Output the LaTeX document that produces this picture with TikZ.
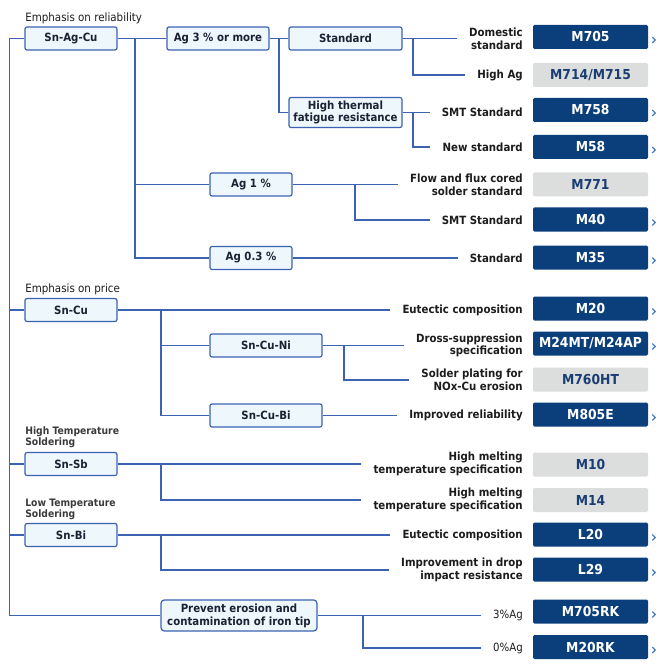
\documentclass[tikz,border=0pt]{standalone}
\usepackage{fontspec}
\setmainfont{DejaVu Sans}[FakeStretch=0.9]
\definecolor{linkblue}{HTML}{3B62B3}
\definecolor{boxfill}{HTML}{EEF7FC}
\definecolor{navy}{HTML}{0B3F7C}
\definecolor{grayfill}{HTML}{DCDDDD}
\definecolor{navytext}{HTML}{1B3E72}
\definecolor{deepnavy}{HTML}{1A2233}
\definecolor{labelblack}{HTML}{1C1C1C}
\definecolor{capgray}{HTML}{3A3A3A}
\definecolor{chevblue}{HTML}{4A7DC4}
\begin{document}
\begin{tikzpicture}[x=0.75pt,y=-0.75pt,
  link/.style={linkblue,line width=0.9pt},
  grp/.style={draw=linkblue,fill=boxfill,line width=0.9pt,rounded corners=1.5pt,minimum height=17.25pt,inner sep=0pt,
    align=center,text=deepnavy,font=\fontsize{8.5}{9.6}\selectfont\bfseries},
  prod/.style={fill=navy,text=white,minimum width=86.25pt,minimum height=18pt,inner sep=0pt,rounded corners=1pt,
    font=\fontsize{10.3}{12}\selectfont\bfseries},
  prodg/.style={prod,fill=grayfill,text=navytext},
  desc/.style={anchor=east,inner xsep=9pt,inner ysep=0pt,align=right,text=labelblack,font=\fontsize{8.5}{9.5}\selectfont\bfseries},
  descr/.style={desc,font=\fontsize{8.5}{9.5}\selectfont},
  captxt/.style={anchor=west,inner sep=0pt,align=left,text=labelblack,font=\fontsize{8.6}{10}\selectfont},
  captxtb/.style={captxt,text=capgray,font=\fontsize{7.7}{8.4}\selectfont\bfseries},
  chev/.style={chevblue,line width=0.9pt}]
\useasboundingbox (0,0) rectangle (660,670);

% captions
\node[captxt] (c1) at (25,18) {Emphasis on reliability};
\node[captxt] (c2) at (25,289) {Emphasis on price};
\node[captxtb] (c3) at (25,437.5) {High Temperature\\Soldering};
\node[captxtb] (c4) at (25,509.5) {Low Temperature\\Soldering};

% groups
\node[grp,minimum width=69pt] (snagcu) at (71,38.5) {Sn-Ag-Cu};
\node[grp,minimum width=76.5pt] (ag3) at (218,38.5) {Ag 3 \% or more};
\node[grp,minimum width=84.75pt] (std) at (345.5,38.5) {Standard};
\node[grp,minimum width=84.75pt,minimum height=22.5pt] (hitherm) at (345.5,112.5) {High thermal\\fatigue resistance};
\node[grp,minimum width=61.5pt] (ag1) at (251,184.5) {Ag 1 \%};
\node[grp,minimum width=61.5pt] (ag03) at (251,258) {Ag 0.3 \%};
\node[grp,minimum width=69pt] (sncu) at (71,310) {Sn-Cu};
\node[grp,minimum width=84pt] (sncuni) at (266,345.5) {Sn-Cu-Ni};
\node[grp,minimum width=84pt] (sncubi) at (266,415.5) {Sn-Cu-Bi};
\node[grp,minimum width=69pt] (snsb) at (71,464) {Sn-Sb};
\node[grp,minimum width=69pt] (snbi) at (71,535) {Sn-Bi};
\node[grp,minimum width=117pt,minimum height=23.25pt,rounded corners=2.5pt] (prevent) at (239,615.5) {Prevent erosion and\\contamination of iron tip};

% descriptions
\node[desc] (dom) at (535,38.5) {Domestic\\standard};
\node[desc] (highag) at (535,75) {High Ag};
\node[desc] (smt1) at (535,112.5) {SMT Standard};
\node[desc] (newstd) at (535,147) {New standard};
\node[desc] (flow) at (535,184.5) {Flow and flux cored\\solder standard};
\node[desc] (smt2) at (535,220) {SMT Standard};
\node[desc] (std2) at (535,258) {Standard};
\node[desc] (eut1) at (535,310) {Eutectic composition};
\node[desc] (dross) at (535,345.5) {Dross-suppression\\specification};
\node[desc] (plating) at (535,380) {Solder plating for\\NOx-Cu erosion};
\node[desc] (impr) at (535,415.5) {Improved reliability};
\node[desc] (hm1) at (535,464) {High melting\\temperature specification};
\node[desc] (hm2) at (535,500) {High melting\\temperature specification};
\node[desc] (eut2) at (535,535) {Eutectic composition};
\node[desc] (drop) at (535,570) {Improvement in drop\\impact resistance};
\node[descr] (ag3pct) at (535,615.5) {3\%Ag};
\node[descr] (ag0pct) at (535,648) {0\%Ag};

% products
\foreach \n/\t/\y/\s in {m705/M705/37/prod,m714/M714\slash M715/75/prodg,m758/M758/110/prod,m58/M58/147/prod,
  m771/M771/184.5/prodg,m40/M40/219.5/prod,m35/M35/257.5/prod,m20/M20/308.5/prod,m24/M24MT\slash M24AP/343.5/prod,
  m760/M760HT/379.5/prodg,m805/M805E/414.5/prod,m10/M10/464.5/prodg,m14/M14/500/prodg,l20/L20/534.5/prod,
  l29/L29/569.5/prod,m705rk/M705RK/611.5/prod,m20rk/M20RK/647/prod}
  \node[\s] (\n) at (590.5,\y) {\t};
\foreach \n in {m705,m758,m58,m40,m35,m20,m24,m805,l20,l29,m705rk,m20rk}
  \draw[chev] (\n.east) ++(4,0) -- ++(3,3) -- ++(-3,3);

% trunk
\coordinate (trunk) at (9.5,615.5);
\draw[link] (snagcu.west) -| (trunk) -- (prevent.west);
\foreach \n in {sncu,snsb,snbi}
  \draw[link] (\n.west) -- (\n.west -| trunk);

% Sn-Ag-Cu
\coordinate (b1) at (135,0);
\coordinate (b2) at (279,0);
\coordinate (b3) at (413,0);
\coordinate (b4) at (355,0);
\draw[link] (snagcu) -- (ag3);
\draw[link] (snagcu.east -| b1) |- (ag1.west);
\draw[link] (snagcu.east -| b1) |- (ag03.west);
\draw[link] (ag3) -- (std);
\draw[link] (ag3.east -| b2) |- (hitherm.west);
\draw[link] (std.east) -- (dom.west);
\draw[link] (std.east -| b3) |- (highag.west);
\draw[link] (hitherm.east) -- (smt1.west);
\draw[link] (hitherm.east -| b3) |- (newstd.west);
\draw[link] (ag1.east) -- (flow.west);
\draw[link] (ag1.east -| b4) |- (smt2.west);
\draw[link] (ag03.east) -- (std2.west);

% Sn-Cu
\coordinate (b5) at (161,0);
\coordinate (b6) at (344,0);
\draw[link] (sncu.east) -- (eut1.west);
\draw[link] (sncu.east -| b5) |- (sncuni.west);
\draw[link] (sncu.east -| b5) |- (sncubi.west);
\draw[link] (sncuni.east) -- (dross.west);
\draw[link] (sncuni.east -| b6) |- (plating.west);
\draw[link] (sncubi.east) -- (impr.west);

% Sn-Sb, Sn-Bi
\draw[link] (snsb.east) -- (hm1.west);
\draw[link] (snsb.east -| b5) |- (hm2.west);
\draw[link] (snbi.east) -- (eut2.west);
\draw[link] (snbi.east -| b5) |- (drop.west);

% iron tip
\coordinate (b7) at (363,0);
\draw[link] (prevent.east) -- (ag3pct.west);
\draw[link] (prevent.east -| b7) |- (ag0pct.west);
\end{tikzpicture}
\end{document}
